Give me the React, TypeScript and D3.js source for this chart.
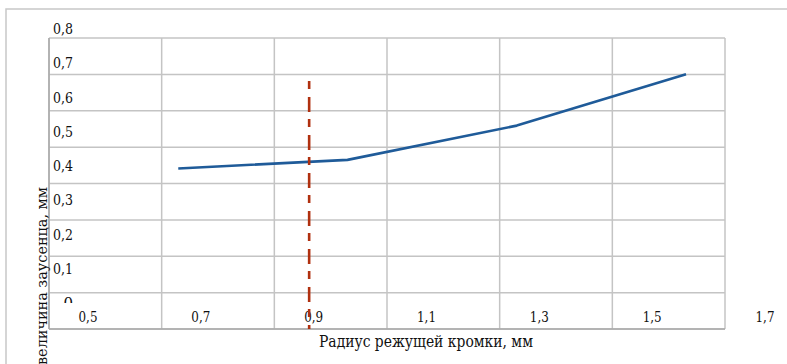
import React from "react";
import * as d3 from "d3";

// Data (read in axis-label coordinates)
const radius = [0.66, 0.96, 1.26, 1.56];
const burr = [0.39, 0.415, 0.515, 0.665];
const markerX = 0.892;
const markerTop = 0.645;
const xTicks = [0.5, 0.7, 0.9, 1.1, 1.3, 1.5, 1.7];
const yTicks = [0, 0.1, 0.2, 0.3, 0.4, 0.5, 0.6, 0.7, 0.8];
const xTitle = "Радиус режущей кромки, мм";
const yTitle = "величина заусенца, мм";

const W = 787;
const H = 364;

const FONT = "'DejaVu Serif', serif";

export default function App() {
  // gridline scales
  const xGrid = d3.scaleLinear().domain([0.5, 1.7]).range([49, 725]);
  const yGrid = d3.scaleLinear().domain([0, 0.8]).range([329, 38]);
  // label / data scales
  const xLab = d3.scaleLinear().domain([0.5, 1.7]).range([88, 765]);
  const yLab = d3.scaleLinear().domain([0, 0.8]).range([302, 28]);

  const line = d3
    .line<number>()
    .x((_, i) => xLab(radius[i]))
    .y((d) => yLab(d));

  const gridColor = "#c4c4c4";
  const ts: React.CSSProperties = { fontFamily: FONT };

  return (
    <svg
      width={W}
      height={H}
      style={{ position: "absolute", left: 0, top: 0, background: "#fff", fontFamily: FONT }}
    >
      <defs>
        <clipPath id="zeroClip">
          <rect x={0} y={0} width={W} height={yLab(0) + 1} />
        </clipPath>
      </defs>
      <rect x={0} y={0} width={W} height={H} fill="#fff" />
      {/* outer chart border */}
      <rect x={6} y={9} width={W + 20} height={H + 20} fill="none" stroke="#c8c8c8" strokeWidth={1.5} />

      {/* grid */}
      {yTicks.map((t) => (
        <line
          key={"gy" + t}
          x1={xGrid(0.5)}
          x2={xGrid(1.7)}
          y1={yGrid(t)}
          y2={yGrid(t)}
          stroke={gridColor}
          strokeWidth={1.5}
        />
      ))}
      {xTicks.map((t) => (
        <line
          key={"gx" + t}
          x1={xGrid(t)}
          x2={xGrid(t)}
          y1={yGrid(0.8)}
          y2={yGrid(0)}
          stroke={gridColor}
          strokeWidth={1.5}
        />
      ))}
      <line x1={xGrid(0.5)} x2={xGrid(0.5)} y1={yGrid(0.8)} y2={yGrid(0)} stroke="#a8a8a8" strokeWidth={1.5} />
      <line x1={xGrid(0.5)} x2={xGrid(1.7)} y1={yGrid(0)} y2={yGrid(0)} stroke="#a8a8a8" strokeWidth={1.5} />

      {/* y tick labels */}
      {yTicks.map((t) => (
        <text
          key={"yl" + t}
          x={73}
          y={yLab(t) + 6}
          textAnchor="end"
          fontSize={15}
          fill="#111"
          style={ts}
          textLength={t === 0 ? undefined : 20}
          lengthAdjust="spacingAndGlyphs"
          clipPath={t === 0 ? "url(#zeroClip)" : undefined}
        >
          {t === 0 ? "0" : t.toFixed(1).replace(".", ",")}
        </text>
      ))}

      {/* x tick labels */}
      {xTicks.map((t) => (
        <text
          key={"xl" + t}
          x={xLab(t)}
          y={322}
          textAnchor="middle"
          fontSize={15}
          fill="#111"
          style={ts}
          textLength={19}
          lengthAdjust="spacingAndGlyphs"
        >
          {t.toFixed(1).replace(".", ",")}
        </text>
      ))}

      {/* data line */}
      <path d={line(burr) || ""} fill="none" stroke="#1f5b99" strokeWidth={2.6} strokeLinejoin="round" />

      {/* dashed marker */}
      <line
        x1={xLab(markerX)}
        x2={xLab(markerX)}
        y1={yLab(markerTop)}
        y2={yGrid(0)}
        stroke="#b0300f"
        strokeWidth={2.6}
        strokeDasharray="8,8,15,7"
      />

      {/* axis titles */}
      <text x={319} y={347} fontSize={16} fill="#111" style={ts} textLength={214} lengthAdjust="spacingAndGlyphs">
        {xTitle}
      </text>
      <text
        transform="translate(47,365) rotate(-90)"
        x={0}
        y={0}
        fontSize={15}
        fill="#111"
        style={ts}
        textLength={178}
        lengthAdjust="spacingAndGlyphs"
      >
        {yTitle}
      </text>
    </svg>
  );
}
